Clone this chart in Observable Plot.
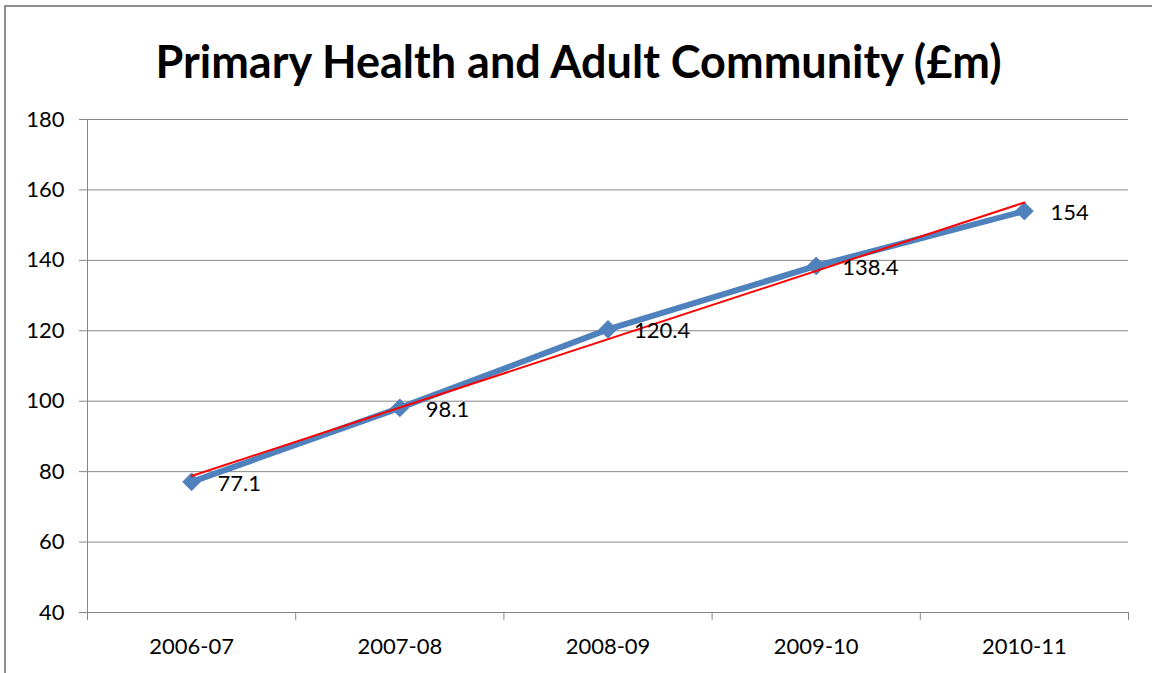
<!DOCTYPE html>
<html>
<head>
<meta charset="utf-8">
<script src="https://cdn.jsdelivr.net/npm/d3@7"></script>
<script src="https://cdn.jsdelivr.net/npm/@observablehq/plot@0.6"></script>
<style>
  html, body { margin: 0; padding: 0; background: #fff; overflow: hidden; }
  #frame {
    position: absolute; left: 4px; top: 5px; width: 1170px; height: 700px;
    border-left: 2px solid #8e8e8e; border-top: 2px solid #8e8e8e;
  }
  #title {
    position: absolute; left: 0; top: 35px; width: 1157px; text-align: center;
    font-family: Lato, sans-serif; font-weight: bold; font-size: 45px; color: #000;
    line-height: 52px;
  }
  #chart { position: absolute; left: 0; top: 105px; }
</style>
</head>
<body>
<div id="frame"></div>
<div id="title">Primary Health and Adult Community (£m)</div>
<div id="chart"></div>
<script>
// Spending by financial year, £m
const years = ["2006-07", "2007-08", "2008-09", "2009-10", "2010-11"];
const spend = [77.1, 98.1, 120.4, 138.4, 154];
const yTicks = [40, 60, 80, 100, 120, 140, 160, 180];

const rows = years.map((year, i) => ({i: i + 1, year, value: spend[i]}));
const positions = rows.map(d => d.i);
const boundaries = [0.5, ...positions.map(p => p + 0.5)];

const blue = "#4f81bd";
const grey = "#868686";
const font = "Lato, sans-serif";

const chart = Plot.plot({
  width: 1152,
  height: 568,
  marginTop: 14,
  marginBottom: 61,
  marginLeft: 87,
  marginRight: 24,
  style: {fontFamily: font, fontSize: "22px", color: "#000", background: "transparent"},
  x: {domain: [0.5, years.length + 0.5]},
  y: {domain: [40, 180]},
  marks: [
    Plot.gridY(yTicks, {stroke: grey, strokeOpacity: 1}),
    Plot.ruleX([0.5], {stroke: grey}),
    Plot.axisY(yTicks, {tickSize: 8, tickPadding: 15, stroke: grey, label: null, fontSize: 22}),
    Plot.axisX(boundaries, {tickSize: 8, stroke: grey, tickFormat: () => "", label: null}),
    Plot.axisX(positions, {tickSize: 0, tickPadding: 26, tickFormat: p => years[p - 1], label: null, fontSize: 22}),
    Plot.line(rows, {x: "i", y: "value", stroke: blue, strokeWidth: 6}),
    Plot.dot(rows, {x: "i", y: "value", symbol: "diamond2", r: 8, fill: blue, stroke: blue, strokeWidth: 1}),
    Plot.linearRegressionY(rows, {x: "i", y: "value", stroke: "red", strokeWidth: 2, ci: 0}),
    Plot.text(rows, {x: "i", y: "value", text: d => String(d.value), textAnchor: "start", dx: 26, dy: 2, fill: "#000", fontSize: 22})
  ]
});
document.getElementById("chart").appendChild(chart);
</script>
</body>
</html>
